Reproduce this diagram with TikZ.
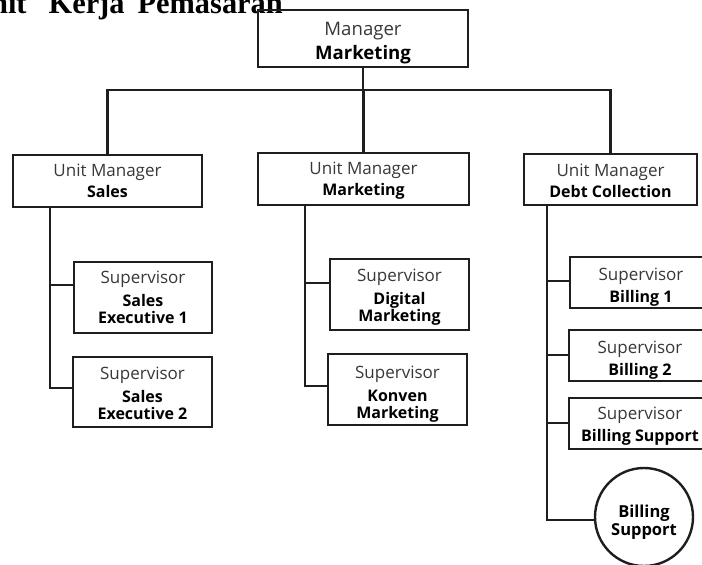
\documentclass[tikz,border=0pt]{standalone}
\usepackage{fontspec}
\newfontfamily\osans{Open Sans}
\newfontfamily\tnr{Liberation Serif}
\definecolor{lc}{HTML}{1E1E1E}
\definecolor{tc}{HTML}{383838}
\newcommand\rgl[1]{{\fontsize{17}{17}\selectfont\color{tc}#1}}
\newcommand\bld[1]{{\fontsize{16}{17}\selectfont\bfseries #1}}
\begin{document}
\begin{tikzpicture}[x=1pt,y=-1pt,
  box/.style={draw=lc, line width=2.4pt, rectangle, inner sep=0pt},
  txt/.style={inner sep=0pt, align=center, font=\osans\fontsize{16}{17}\selectfont, text=black},
  conn/.style={draw=lc, line width=2.4pt},
]
\useasboundingbox (0,0) rectangle (702,565);
\clip (0,0) rectangle (702,565);
\fill[white] (0,0) rectangle (702,565);
% title (cut off at the top and left edges, as in the source)
\node[anchor=base east, inner sep=0pt, font=\tnr\bfseries\fontsize{30.4}{32}\selectfont] (title) at (283,13) {Unit\hspace{22pt}Kerja\hspace{13pt}Pemasaran};
% frames
\node[box, minimum width=210pt, minimum height=57pt] (top) at (363,38.5) {};
\node[box, minimum width=189pt, minimum height=52pt] (sales) at (107.5,181) {};
\node[box, minimum width=211pt, minimum height=52pt] (umm) at (363.5,179) {};
\node[box, minimum width=173pt, minimum height=51pt] (dc) at (610.5,179.5) {};
\node[box, minimum width=138pt, minimum height=71pt] (se1) at (143,297.5) {};
\node[box, minimum width=139pt, minimum height=70pt] (se2) at (142.5,392) {};
\node[box, minimum width=139pt, minimum height=71pt] (dm) at (399.5,294.5) {};
\node[box, minimum width=139pt, minimum height=71pt] (km) at (397.5,389.5) {};
\node[box, minimum width=142pt, minimum height=51pt] (b1) at (641,282.5) {};
\node[box, minimum width=142pt, minimum height=51pt] (b2) at (640,355.5) {};
\node[box, minimum width=142pt, minimum height=51pt] (bs) at (640,423.5) {};
\node[box, circle, minimum size=98pt] (circ) at (644,517) {};
% texts
\node[txt, font=\osans\fontsize{18.6}{19}\selectfont] (top-t) at ([yshift=-4.5pt]top.center)
  {\textcolor{tc}{Manager}\\[5pt]\textbf{Marketing}};
\node[txt] (sales-t) at ([yshift=0pt]sales.center) {\rgl{Unit Manager}\\[4pt]\bld{Sales}};
\node[txt] (umm-t) at ([yshift=-2pt]umm.center) {\rgl{Unit Manager}\\[4pt]\bld{Marketing}};
\node[txt] (dc-t) at ([yshift=-1pt]dc.center) {\rgl{Unit Manager}\\[4pt]\bld{Debt Collection}};
\node[txt] (se1-t) at ([yshift=0pt]se1.center) {\rgl{Supervisor}\\[6pt]\bld{Sales}\\\bld{Executive 1}};
\node[txt] (se2-t) at ([yshift=-1pt]se2.center) {\rgl{Supervisor}\\[6pt]\bld{Sales}\\\bld{Executive 2}};
\node[txt] (dm-t) at ([yshift=-3pt]dm.center) {\rgl{Supervisor}\\[6pt]\bld{Digital}\\\bld{Marketing}};
\node[txt] (km-t) at ([yshift=-4.5pt]km.center) {\rgl{Supervisor}\\[6pt]\bld{Konven}\\\bld{Marketing}};
\node[txt] (b1-t) at ([yshift=-4.5pt]b1.center) {\rgl{Supervisor}\\[5pt]\bld{Billing 1}};
\node[txt] (b2-t) at ([yshift=-5pt]b2.center) {\rgl{Supervisor}\\[5pt]\bld{Billing 2}};
\node[txt] (bs-t) at ([yshift=-3pt]bs.center) {\rgl{Supervisor}\\[5pt]\bld{Billing Support}};
\node[txt, font=\osans\bfseries\fontsize{16.5}{18}\selectfont] (circ-t) at ([yshift=-5pt]circ.center) {Billing\\Support};
% connectors
\coordinate (bus) at (0,90);
\draw[conn] (top.south) -- (top.south |- bus);
\draw[conn] (sales.north) |- (top.south |- bus) -| (dc.north);
\draw[conn] (umm.north) -- (umm.north |- bus);
\coordinate (ss) at ([xshift=38pt]sales.south west);
\draw[conn] (ss) |- ([yshift=12.5pt]se1.west);
\draw[conn] (ss) |- ([yshift=4pt]se2.west);
\coordinate (ms) at ([xshift=48pt]umm.south west);
\draw[conn] (ms) |- ([yshift=11.5pt]dm.west);
\draw[conn] (ms) |- ([yshift=3.5pt]km.west);
\coordinate (ds) at ([xshift=24pt]dc.south west);
\draw[conn] (ds) |- ([yshift=1.5pt]b1.west);
\draw[conn] (ds) |- ([yshift=0.5pt]b2.west);
\draw[conn] (ds) |- ([yshift=0.5pt]bs.west);
\draw[conn] (ds) |- ([yshift=-3pt]circ.west);
\end{tikzpicture}
\end{document}
